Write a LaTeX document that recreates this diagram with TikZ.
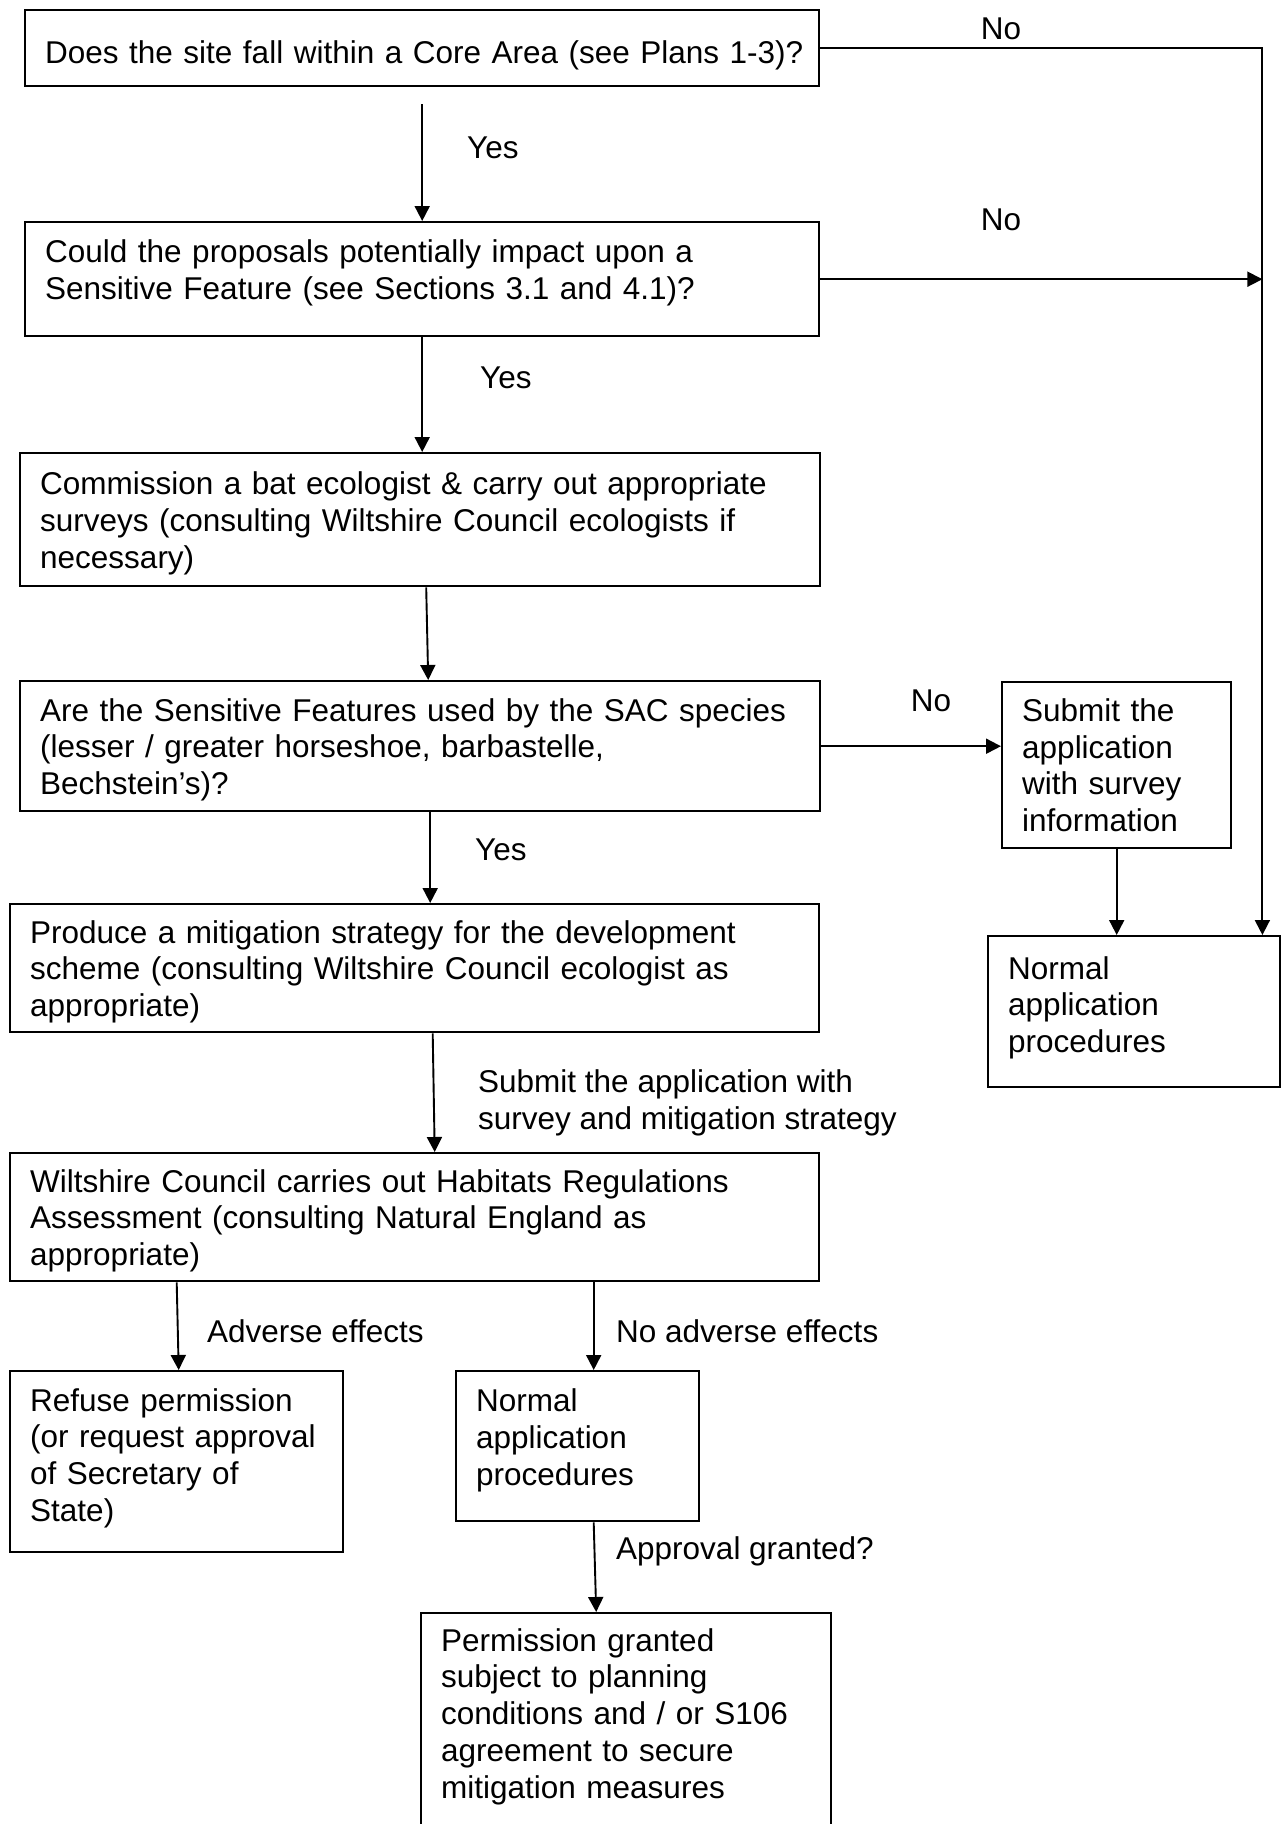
\documentclass[tikz,border=0pt]{standalone}
\usepackage{fontspec}
\setmainfont{Liberation Sans}
\usetikzlibrary{arrows.meta}

\tikzset{
  box/.style 2 args={draw, line width=2.4pt, anchor=north west, align=left,
    inner xsep=20pt, inner ysep=6pt, minimum width=#1, text width=#1-40,
    minimum height=#2, text height=30pt},
  arr/.style={line width=1.9pt, -{Triangle[length=15pt,width=15pt]}},
  lbl/.style={inner sep=0pt, anchor=west, align=left}
}

\begin{document}
\begin{tikzpicture}[x=1pt, y=-1pt, font=\fontsize{31.5}{36.7}\selectfont]
\useasboundingbox (0,0) rectangle (1287,1824);
% main column
\node[box={794}{76}, text height=38pt] (core) at (24,9) {\mbox{Does the site fall within a Core Area (see Plans 1-3)?}};
\node[box={794}{114}, text depth=63pt] (sens) at (24,221) {Could the proposals potentially impact upon a\\Sensitive Feature (see Sections 3.1 and 4.1)?};
\node[box={800}{133}] (ecol) at (19,452) {Commission a bat ecologist \& carry out appropriate\\surveys (consulting Wiltshire Council ecologists if\\necessary)};
\node[box={800}{130}] (sac) at (19,680) {Are the Sensitive Features used by the SAC species\\(lesser / greater horseshoe, barbastelle,\\Bechstein’s)?};
\node[box={809}{128}] (mitig) at (9,903) {Produce a mitigation strategy for the development\\scheme (consulting Wiltshire Council ecologist as\\appropriate)};
\node[box={809}{128}] (hra) at (9,1152) {Wiltshire Council carries out Habitats Regulations\\Assessment (consulting Natural England as\\appropriate)};
\node[box={333}{181}, text depth=131pt] (refuse) at (9,1370) {Refuse permission\\(or request approval\\of Secretary of\\State)};
\node[box={243}{150}, text depth=99pt] (norm2) at (455,1370) {Normal\\application\\procedures};
\node[box={410}{0}, inner ysep=8pt, text depth=250pt] (perm) at (420,1612) {Permission granted\\subject to planning\\conditions and / or S106\\agreement to secure\\mitigation measures};
% right column
\node[box={229}{166}, text height=23pt] (subm) at (1001,681) {Submit the\\application\\with survey\\information};
\node[box={292}{151}, text depth=95pt] (norm1) at (987,935) {Normal\\application\\procedures};

\coordinate (rail) at ([xshift=-19pt]norm1.north east);

% connectors
\draw[arr] (core.east) -| (rail);
\draw[arr] (sens.east) -- (sens.east -| rail);
\draw[arr] ([yshift=-17pt]core.south) -- (core.south |- sens.north);
\draw[arr] (sens.south) -- (sens.south |- ecol.north);
\draw[arr] ([xshift=6pt]ecol.south) -- ([xshift=8pt]sac.north);
\draw[arr] (sac.east) -- (sac.east -| subm.west);
\draw[arr] ([xshift=10pt]sac.south) -- ([xshift=10pt]sac.south |- mitig.north);
\draw[arr] (subm.south) -- (subm.south |- norm1.north);
\draw[arr] ([xshift=18pt]mitig.south) -- ([xshift=20pt]hra.south |- hra.north);
\draw[arr] (hra.south -| refuse.north) -- ([xshift=2pt]refuse.north);
\draw[arr] ([xshift=16pt]norm2.north |- hra.south) -- ([xshift=16pt]norm2.north);
\draw[arr] ([xshift=16pt]norm2.south) -- ([xshift=-30pt]perm.north);

% labels
\node[lbl, anchor=center] (no1) at (1001,29) {No};
\node[lbl, anchor=center] (no2) at (1001,220) {No};
\node[lbl, anchor=center] (no3) at (931,701) {No};
\node[lbl] (yes1) at (467,148) {Yes};
\node[lbl] (yes2) at (480,378) {Yes};
\node[lbl] (yes3) at (475,850) {Yes};
\node[lbl] (subtxt) at (478,1103) {Submit the application with\\survey and mitigation strategy};
\node[lbl] (adv) at (207,1331) {Adverse effects};
\node[lbl] (noadv) at (616,1331) {No adverse effects};
\node[lbl] (appr) at (616,1551) {Approval granted?};
\end{tikzpicture}
\end{document}
